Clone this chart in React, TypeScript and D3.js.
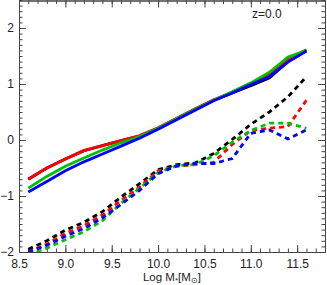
import React, { useEffect, useRef } from "react";
import * as d3 from "d3";

const logMass = [8.6, 8.8, 9.0, 9.2, 9.4, 9.6, 9.8, 10.0, 10.2, 10.4, 10.6, 10.8, 11.0, 11.2, 11.4, 11.6];

// solid lines
const solidBlack = [-0.70, -0.50, -0.34, -0.19, -0.10, -0.01, 0.07, 0.21, 0.38, 0.55, 0.71, 0.84, 0.97, 1.11, 1.40, 1.60];
const solidRed = [-0.70, -0.50, -0.34, -0.19, -0.10, -0.01, 0.08, 0.22, 0.39, 0.56, 0.72, 0.85, 1.00, 1.17, 1.44, 1.61];
const solidGreen = [-0.86, -0.65, -0.47, -0.32, -0.18, -0.05, 0.06, 0.21, 0.38, 0.55, 0.71, 0.86, 1.02, 1.21, 1.48, 1.60];
const solidBlue = [-0.93, -0.74, -0.55, -0.39, -0.25, -0.11, 0.03, 0.19, 0.36, 0.53, 0.70, 0.84, 0.99, 1.13, 1.39, 1.59];

// dashed lines
const dashBlack = [-1.95, -1.80, -1.61, -1.47, -1.28, -1.02, -0.78, -0.53, -0.44, -0.41, -0.24, 0.01, 0.28, 0.50, 0.77, 1.13];
const dashRed = [-2.00, -1.86, -1.67, -1.53, -1.34, -1.08, -0.84, -0.55, -0.47, -0.44, -0.40, -0.08, 0.17, 0.21, 0.24, 0.71];
const dashGreen = [-2.05, -1.93, -1.78, -1.64, -1.44, -1.13, -0.86, -0.58, -0.46, -0.44, -0.28, -0.04, 0.17, 0.30, 0.30, 0.21];
const dashBlue = [-2.00, -1.88, -1.72, -1.58, -1.39, -1.15, -0.90, -0.60, -0.46, -0.42, -0.42, -0.33, 0.12, 0.18, 0.02, 0.18];

const xTicks = [8.5, 9.0, 9.5, 10.0, 10.5, 11.0, 11.5];
const yTicks = [-2, -1, 0, 1, 2];

export default function App() {
  const ref = useRef<SVGSVGElement | null>(null);

  useEffect(() => {
    const svg = d3.select(ref.current);
    svg.selectAll("*").remove();

    const left = 19, right = 325, top = 0, bottom = 252;
    const x = d3.scaleLinear().domain([8.5, 11.8]).range([left, right]);
    const y = d3.scaleLinear().domain([-2, 2.5]).range([bottom, top]);
    const axisColor = "#444";
    const font = "'Liberation Sans', Arial, sans-serif";

    const minorX = d3.range(85, 119).map(v => v / 10);
    const minorY = d3.range(-20, 26).map(v => v / 10);

    const styleAxis = (g: any) => {
      g.selectAll("path").attr("stroke", axisColor).attr("stroke-width", 1);
      g.selectAll("line").attr("stroke", axisColor).attr("stroke-width", 1);
      g.selectAll("text").attr("fill", "#222").style("font-family", font).style("font-size", "12px");
    };

    // bottom
    svg.append("g").attr("transform", `translate(0,${bottom})`)
      .call(d3.axisBottom(x).tickValues(minorX).tickSize(-3.5).tickFormat(() => "").tickSizeOuter(0))
      .call(styleAxis);
    svg.append("g").attr("transform", `translate(0,${bottom})`)
      .call(d3.axisBottom(x).tickValues(xTicks).tickSize(-7).tickPadding(7).tickFormat(d3.format(".1f")).tickSizeOuter(0))
      .call(styleAxis);
    // top
    svg.append("g").attr("transform", `translate(0,${top + 0.5})`)
      .call(d3.axisTop(x).tickValues(minorX).tickSize(-3.5).tickFormat(() => "").tickSizeOuter(0))
      .call(styleAxis);
    svg.append("g").attr("transform", `translate(0,${top + 0.5})`)
      .call(d3.axisTop(x).tickValues(xTicks).tickSize(-7).tickFormat(() => "").tickSizeOuter(0))
      .call(styleAxis);
    // left
    svg.append("g").attr("transform", `translate(${left},0)`)
      .call(d3.axisLeft(y).tickValues(minorY).tickSize(-3.5).tickFormat(() => "").tickSizeOuter(0))
      .call(styleAxis);
    svg.append("g").attr("transform", `translate(${left},0)`)
      .call(d3.axisLeft(y).tickValues(yTicks).tickSize(-7).tickPadding(5).tickFormat(d3.format("d")).tickSizeOuter(0))
      .call(styleAxis);
    // right
    svg.append("g").attr("transform", `translate(${right},0)`)
      .call(d3.axisRight(y).tickValues(minorY).tickSize(-3.5).tickFormat(() => "").tickSizeOuter(0))
      .call(styleAxis);
    svg.append("g").attr("transform", `translate(${right},0)`)
      .call(d3.axisRight(y).tickValues(yTicks).tickSize(-7).tickFormat(() => "").tickSizeOuter(0))
      .call(styleAxis);

    svg.append("clipPath").attr("id", "plotclip")
      .append("rect").attr("x", left).attr("y", top).attr("width", right - left).attr("height", bottom - top);

    const line = d3.line<number>().x((_, i) => x(logMass[i])).y(d => y(d));
    const plot = svg.append("g").attr("clip-path", "url(#plotclip)");

    const dashed = [
      { v: dashBlack, c: "#000000" },
      { v: dashRed, c: "#ff0000" },
      { v: dashGreen, c: "#00c000" },
      { v: dashBlue, c: "#0000ff" },
    ];
    const solid = [
      { v: solidBlack, c: "#000000" },
      { v: solidRed, c: "#ff0000" },
      { v: solidGreen, c: "#00c000" },
      { v: solidBlue, c: "#0000ff" },
    ];

    dashed.forEach(s => {
      plot.append("path").attr("d", line(s.v)).attr("fill", "none")
        .attr("stroke", s.c).attr("stroke-width", 2.8).attr("stroke-dasharray", "5,4");
    });
    solid.forEach(s => {
      plot.append("path").attr("d", line(s.v)).attr("fill", "none")
        .attr("stroke", s.c).attr("stroke-width", 2.8).attr("stroke-linejoin", "round");
    });

    svg.append("text").attr("x", 252).attr("y", 18)
      .attr("fill", "#222").style("font-family", font).style("font-size", "12px")
      .text("z=0.0");

    const title = svg.append("text").attr("x", 172).attr("y", 281).attr("text-anchor", "middle")
      .attr("fill", "#222").style("font-family", font).style("font-size", "11.5px");
    title.append("tspan").text("Log M");
    title.append("tspan").attr("dy", 1.5).style("font-size", "8px").text("*");
    title.append("tspan").attr("dy", -1.5).text("[M");
    title.append("tspan").attr("dy", 1.5).style("font-size", "7.5px").text("\u2299");
    title.append("tspan").attr("dy", -1.5).text("]");
  }, []);

  return (
    <svg ref={ref} width={327} height={285}
      style={{ position: "absolute", left: 0, top: 0, background: "#fff" }} />
  );
}
